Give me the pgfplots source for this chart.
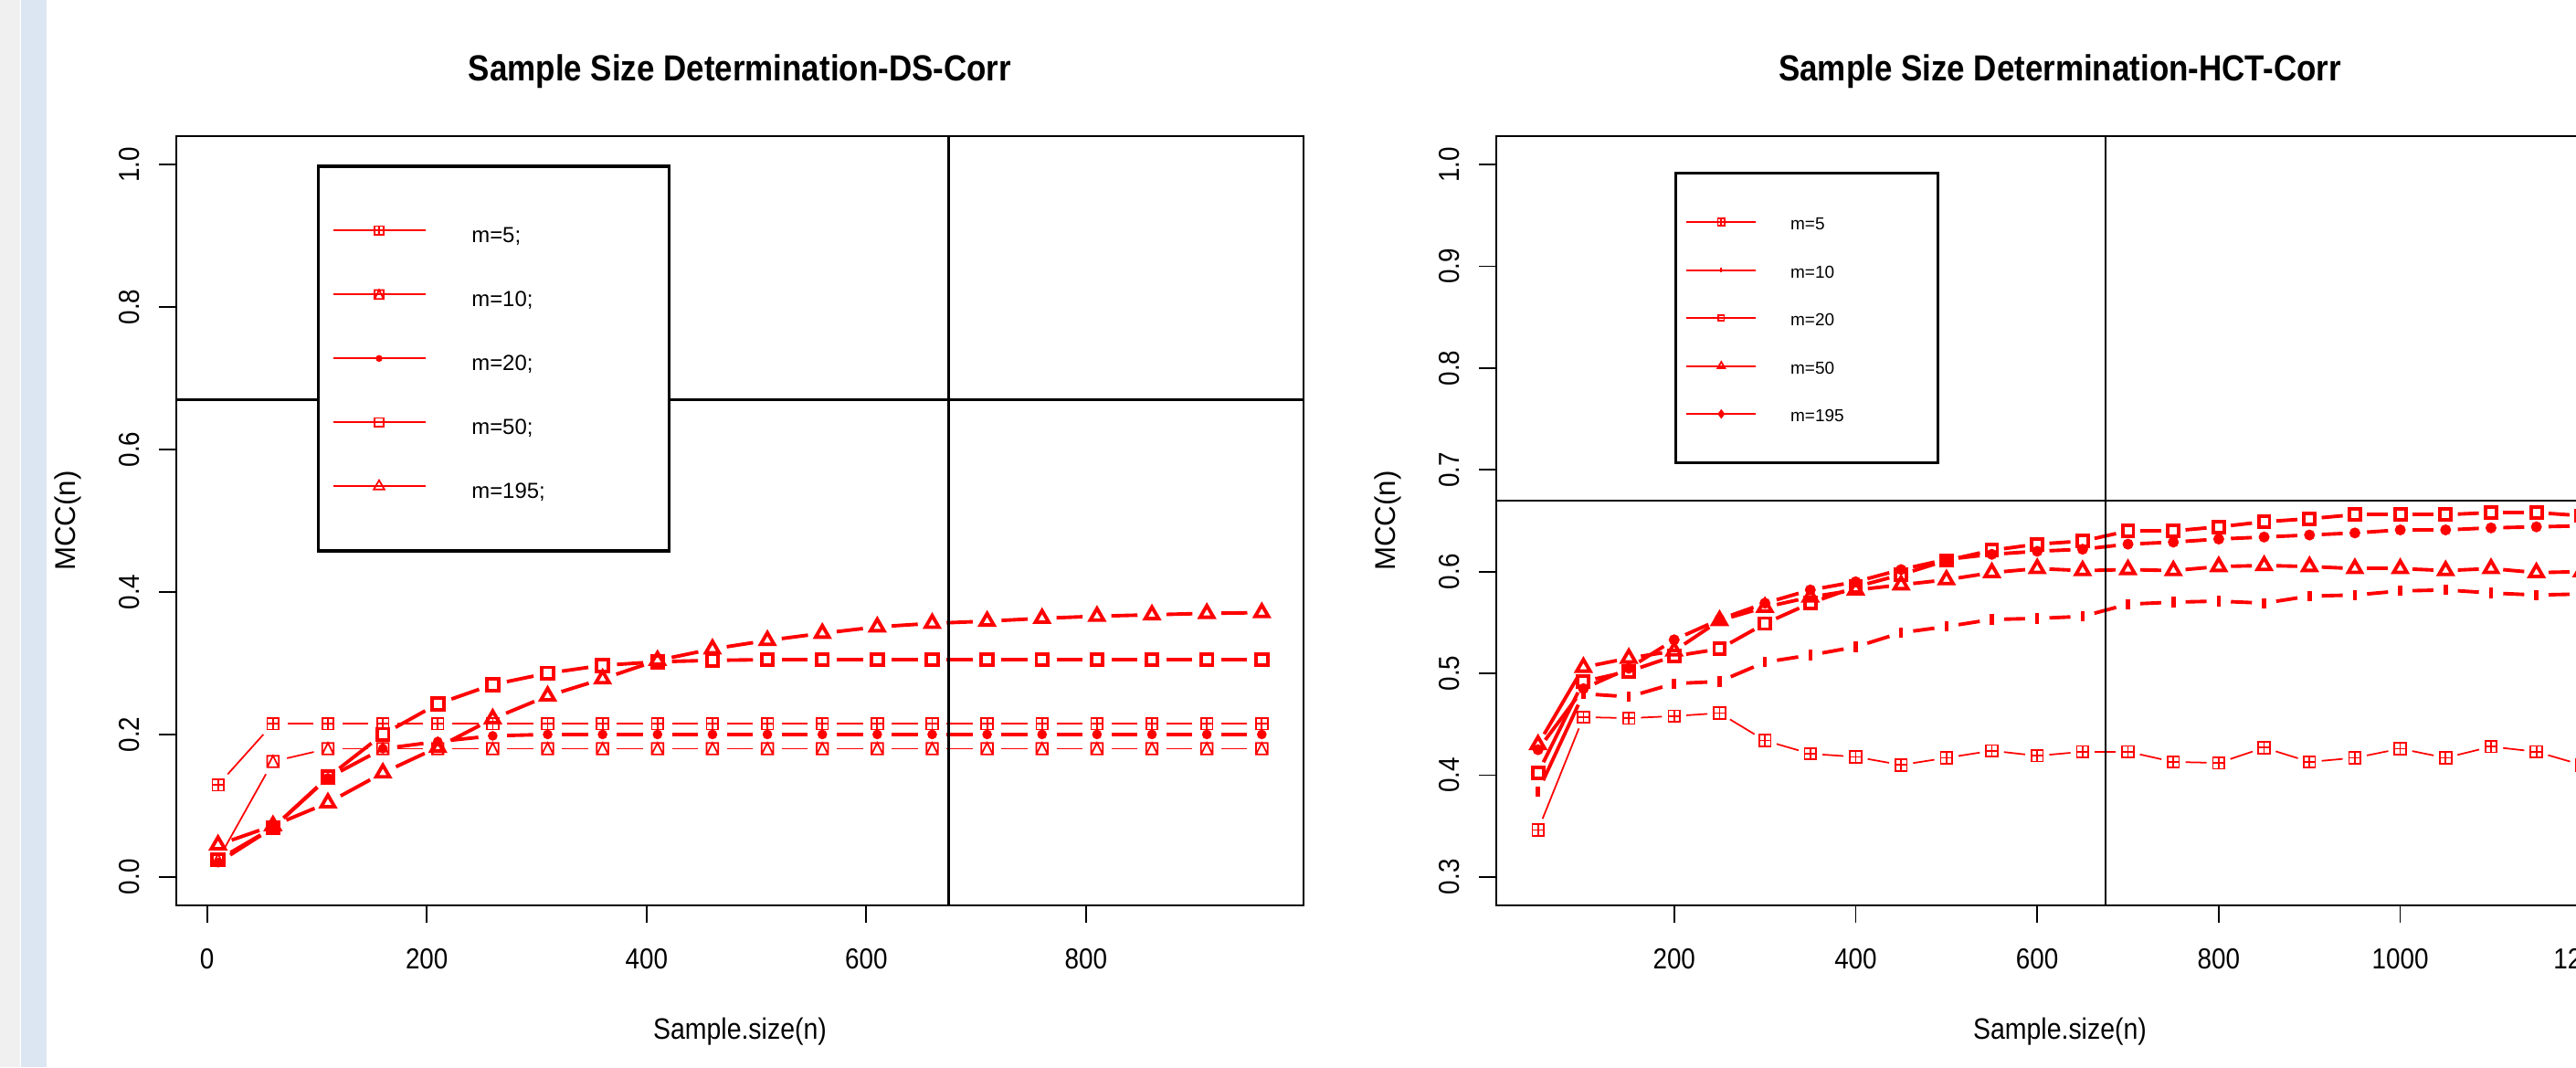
\documentclass[border=0pt]{standalone}
\usepackage{fontspec}
\setmainfont{Liberation Sans}
\newfontfamily\rf[FakeStretch=0.88]{Liberation Sans}
\usepackage{pgfplots}
\usepackage{pgfplotstable}
\pgfplotsset{compat=1.18}
\usetikzlibrary{decorations.pathreplacing}

\definecolor{stripgray}{HTML}{F0F0F0}
\definecolor{stripblue}{HTML}{DCE6F2}

% R pch 12 and pch 14
\pgfdeclareplotmark{boxplus}{%
  \pgfpathrectangle{\pgfpoint{-\pgfplotmarksize}{-\pgfplotmarksize}}{\pgfpoint{2\pgfplotmarksize}{2\pgfplotmarksize}}%
  \pgfpathmoveto{\pgfpoint{-\pgfplotmarksize}{0pt}}\pgfpathlineto{\pgfpoint{\pgfplotmarksize}{0pt}}%
  \pgfpathmoveto{\pgfpoint{0pt}{-\pgfplotmarksize}}\pgfpathlineto{\pgfpoint{0pt}{\pgfplotmarksize}}%
  \pgfusepathqstroke}
\pgfdeclareplotmark{boxtri}{%
  \pgfpathrectangle{\pgfpoint{-\pgfplotmarksize}{-\pgfplotmarksize}}{\pgfpoint{2\pgfplotmarksize}{2\pgfplotmarksize}}%
  \pgfpathmoveto{\pgfpoint{-\pgfplotmarksize}{-\pgfplotmarksize}}\pgfpathlineto{\pgfpoint{0pt}{\pgfplotmarksize}}%
  \pgfpathlineto{\pgfpoint{\pgfplotmarksize}{-\pgfplotmarksize}}%
  \pgfusepathqstroke}

% type="b": segments with gaps around the points
\tikzset{gapline/.style 2 args={draw=none, postaction={decorate, decoration={show path construction,
  lineto code={\draw[#1, shorten <=#2, shorten >=#2] (\tikzinputsegmentfirst) -- (\tikzinputsegmentlast);}}}}}

\newcommand\lentL[1]{\makebox[20.1mm][l]{\raisebox{-1.3mm}{#1}}}
\newcommand\lentR[1]{\makebox[15mm][l]{\raisebox{-0.85mm}{#1}}}

\pgfplotsset{rpanel/.style={
  scale only axis, width=123.4mm, height=84.2mm,
  axis line style={line width=0.5pt},
  tick pos=left, tick align=outside, major tick length=1.9mm,
  tick style={black, line width=0.5pt},
  /pgf/number format/assume math mode=true,
  /pgf/number format/1000 sep={},
  xticklabel style={font=\rf\fontsize{9}{10}\selectfont, anchor=base, yshift=-5.0mm},
  yticklabel style={font=\rf\fontsize{9}{10}\selectfont, xshift=-3.23mm, rotate=90, anchor=center,
    /pgf/number format/fixed, /pgf/number format/fixed zerofill, /pgf/number format/precision=1},
  every axis title/.style={at={(axis description cs:0.5,1.0713)}, anchor=base,
    font=\rf\bfseries\fontsize{11.3}{13}\selectfont},
  every axis x label/.style={at={(axis description cs:0.5,-0.1734)}, anchor=base,
    font=\rf\fontsize{9.2}{11}\selectfont},
  every axis y label/.style={at={(axis description cs:-0.096,0.5)}, rotate=90, anchor=center,
    font=\fontsize{8.9}{10}\selectfont},
  xlabel={Sample.size(n)}, ylabel={MCC(n)},
  clip=true,
}}

\pgfplotstableread{
x    m5    m10   m20   m50   m195
10   0.129 0.024 0.020 0.024 0.045
60   0.215 0.162 0.069 0.069 0.072
110  0.215 0.180 0.139 0.140 0.104
160  0.215 0.180 0.180 0.200 0.146
210  0.215 0.180 0.190 0.243 0.182
260  0.215 0.180 0.198 0.270 0.222
310  0.215 0.180 0.200 0.286 0.254
360  0.215 0.180 0.200 0.297 0.278
410  0.215 0.180 0.200 0.302 0.304
460  0.215 0.180 0.200 0.304 0.320
510  0.215 0.180 0.200 0.305 0.332
560  0.215 0.180 0.200 0.305 0.342
610  0.215 0.180 0.200 0.305 0.351
660  0.215 0.180 0.200 0.305 0.356
710  0.215 0.180 0.200 0.305 0.359
760  0.215 0.180 0.200 0.305 0.363
810  0.215 0.180 0.200 0.305 0.366
860  0.215 0.180 0.200 0.305 0.368
910  0.215 0.180 0.200 0.305 0.370
960  0.215 0.180 0.200 0.305 0.371
}\dsdata

\pgfplotstableread{
x    m5    m10   m20   m50   m195
50   0.346 0.384 0.402 0.430 0.425
100  0.457 0.480 0.492 0.506 0.485
150  0.456 0.477 0.502 0.515 0.505
200  0.458 0.490 0.517 0.522 0.533
250  0.461 0.492 0.524 0.552 0.553
300  0.434 0.511 0.549 0.565 0.569
350  0.421 0.518 0.569 0.575 0.582
400  0.418 0.526 0.585 0.582 0.590
450  0.410 0.540 0.597 0.587 0.602
500  0.417 0.546 0.611 0.592 0.612
550  0.424 0.553 0.621 0.599 0.617
600  0.419 0.554 0.627 0.603 0.620
650  0.423 0.556 0.630 0.601 0.622
700  0.423 0.568 0.640 0.602 0.627
750  0.413 0.570 0.640 0.601 0.629
800  0.412 0.571 0.644 0.605 0.632
850  0.427 0.569 0.649 0.606 0.634
900  0.413 0.576 0.652 0.605 0.636
950  0.417 0.577 0.656 0.603 0.638
1000 0.426 0.581 0.656 0.603 0.641
1050 0.417 0.582 0.656 0.601 0.641
1100 0.428 0.579 0.658 0.603 0.643
1150 0.423 0.577 0.658 0.599 0.644
1200 0.410 0.578 0.655 0.600 0.645
}\hctdata

\begin{document}
\begin{tikzpicture}
\path[use as bounding box] (0,0) rectangle (282mm,116.8mm);
\clip (0,0) rectangle (282mm,116.8mm);
\fill[white] (0,0) rectangle (282mm,116.8mm);
\fill[stripgray] (0,0) rectangle (2.2mm,116.8mm);
\fill[stripblue] (2.3mm,0) rectangle (5.07mm,116.8mm);

% ---- DS-Corr
\begin{axis}[rpanel,
  at={(19.3mm,17.7mm)}, anchor=south west,
  title={Sample Size Determination-DS-Corr},
  xmin=-28, xmax=998, ymin=-0.04, ymax=1.04,
  xtick={0,200,400,600,800}, ytick={0,0.2,0.4,0.6,0.8,1.0},
  legend image code/.code={\draw[mark repeat=2,mark phase=2,#1] plot coordinates {(0mm,0mm)(5.05mm,0mm)(10.1mm,0mm)};},
  legend style={at={(axis cs:100,1)}, anchor=north west, draw=black, line width=0.95pt, fill=white,
    inner xsep=1.5mm, inner ysep=3.55mm, row sep=0pt, column sep=5mm,
    nodes={inner sep=0pt, text height=3.5mm, text depth=3.5mm, font=\fontsize{6.8}{8}\selectfont},
    cells={anchor=west}},
]
\addplot[forget plot, gapline={red, line width=0.5pt}{4.5pt}] table[y=m5] {\dsdata};
\addplot[forget plot, only marks, red, line width=0.5pt, mark=boxplus, mark size=1.8pt] table[y=m5] {\dsdata};
\addplot[forget plot, gapline={red, line width=0.5pt}{4.5pt}] table[y=m10] {\dsdata};
\addplot[forget plot, only marks, red, line width=0.5pt, mark=boxtri, mark size=1.8pt] table[y=m10] {\dsdata};
\addplot[forget plot, gapline={red, line width=1.1pt}{4.5pt}] table[y=m20] {\dsdata};
\addplot[forget plot, only marks, red, mark=*, mark size=1.3pt] table[y=m20] {\dsdata};
\addplot[forget plot, gapline={red, line width=1.1pt}{4.5pt}] table[y=m50] {\dsdata};
\addplot[forget plot, only marks, red, line width=1.1pt, mark=square, mark size=1.8pt] table[y=m50] {\dsdata};
\addplot[forget plot, gapline={red, line width=1.1pt}{4.5pt}] table[y=m195] {\dsdata};
\addplot[forget plot, only marks, red, line width=1.1pt, mark=triangle, mark size=2.4pt] table[y=m195] {\dsdata};
\addplot[forget plot, black, line width=0.6pt] coordinates {(-100,0.67) (1100,0.67)};
\addplot[forget plot, black, line width=0.6pt] coordinates {(675,-1) (675,2)};
\addlegendimage{red, line width=0.5pt, mark=boxplus, mark size=1.4pt}
\addlegendentry{\lentL{m=5;}}
\addlegendimage{red, line width=0.5pt, mark=boxtri, mark size=1.4pt}
\addlegendentry{\lentL{m=10;}}
\addlegendimage{red, line width=0.5pt, mark=*, mark size=0.8pt}
\addlegendentry{\lentL{m=20;}}
\addlegendimage{red, line width=0.5pt, mark=square, mark size=1.4pt}
\addlegendentry{\lentL{m=50;}}
\addlegendimage{red, line width=0.5pt, mark=triangle, mark size=1.9pt}
\addlegendentry{\lentL{m=195;}}
\end{axis}

% ---- HCT-Corr
\begin{axis}[rpanel,
  at={(163.8mm,17.7mm)}, anchor=south west,
  title={Sample Size Determination-HCT-Corr},
  xmin=4, xmax=1246, ymin=0.272, ymax=1.028,
  xtick={200,400,600,800,1000,1200}, ytick={0.3,0.4,0.5,0.6,0.7,0.8,0.9,1.0},
  legend image code/.code={\draw[mark repeat=2,mark phase=2,#1] plot coordinates {(0mm,0mm)(3.8mm,0mm)(7.6mm,0mm)};},
  legend style={at={(axis cs:200,0.993)}, anchor=north west, draw=black, line width=0.95pt, fill=white,
    inner xsep=1.1mm, inner ysep=2.725mm, row sep=0pt, column sep=3.7mm,
    nodes={inner sep=0pt, text height=2.625mm, text depth=2.625mm, font=\fontsize{5.4}{6}\selectfont},
    cells={anchor=west}},
]
\addplot[forget plot, gapline={red, line width=0.5pt}{3.8pt}] table[y=m5] {\hctdata};
\addplot[forget plot, only marks, red, line width=0.5pt, mark=boxplus, mark size=1.8pt] table[y=m5] {\hctdata};
\addplot[forget plot, gapline={red, line width=1.1pt}{3.8pt}] table[y=m10] {\hctdata};
\addplot[forget plot, only marks, red, line width=1.3pt, mark=|, mark size=1.6pt] table[y=m10] {\hctdata};
\addplot[forget plot, gapline={red, line width=1.1pt}{3.8pt}] table[y=m20] {\hctdata};
\addplot[forget plot, only marks, red, line width=1.1pt, mark=square, mark size=1.7pt] table[y=m20] {\hctdata};
\addplot[forget plot, gapline={red, line width=1.1pt}{3.8pt}] table[y=m50] {\hctdata};
\addplot[forget plot, only marks, red, line width=1.1pt, mark=triangle, mark size=2.4pt] table[y=m50] {\hctdata};
\addplot[forget plot, gapline={red, line width=1.1pt}{3.8pt}] table[y=m195] {\hctdata};
\addplot[forget plot, only marks, red, mark=*, mark size=1.5pt] table[y=m195] {\hctdata};
\addplot[forget plot, black, line width=0.6pt] coordinates {(-100,0.67) (1400,0.67)};
\addplot[forget plot, black, line width=0.6pt] coordinates {(675,0) (675,2)};
\addlegendimage{red, line width=0.5pt, mark=boxplus, mark size=1.1pt}
\addlegendentry{\lentR{m=5}}
\addlegendimage{red, line width=0.5pt, mark=|, mark size=0.8pt}
\addlegendentry{\lentR{m=10}}
\addlegendimage{red, line width=0.5pt, mark=square, mark size=0.9pt}
\addlegendentry{\lentR{m=20}}
\addlegendimage{red, line width=0.5pt, mark=triangle, mark size=1.3pt}
\addlegendentry{\lentR{m=50}}
\addlegendimage{red, line width=0.5pt, mark=diamond*, mark size=1.1pt}
\addlegendentry{\lentR{m=195}}
\end{axis}
\end{tikzpicture}
\end{document}
